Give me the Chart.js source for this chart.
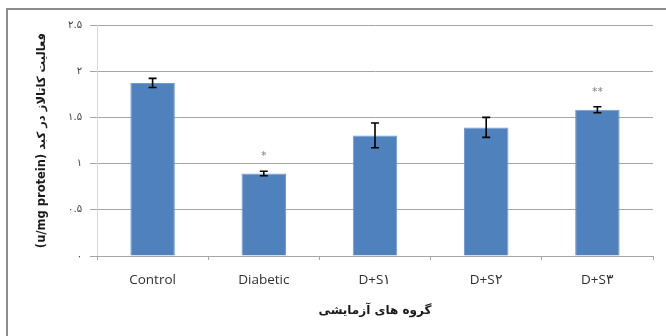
<!DOCTYPE html>
<html>
<head>
<meta charset="utf-8">
<script src="https://cdn.jsdelivr.net/npm/chart.js@4"></script>
<style>
  html, body { margin: 0; background: #fff; }
</style>
</head>
<body>
<canvas id="myChart" width="666" height="336"></canvas>
<script>
// Groups and catalase activity (mean and error)
const groups = ['Control', 'Diabetic', 'D+S۱', 'D+S۲', 'D+S۳'];
const activity = [1.873, 0.893, 1.305, 1.392, 1.583];
const errors = [0.049, 0.025, 0.134, 0.108, 0.033];
const marks = ['', '*', '', '', '**'];
const yTickLabels = ['۰', '۰.۵', '۱', '۱.۵', '۲', '۲.۵'];

// canvas text runs left-to-right, so the latin unit part comes first
const yTitle = '(u/mg protein) فعالیت کاتالاز در کبد';
const xTitle = 'گروه های آزمایشی';

// frame, error bars and significance marks
const extras = {
  id: 'extras',
  beforeDraw(chart) {
    const c = chart.ctx;
    c.save();
    c.strokeStyle = '#8c8c8c';
    c.lineWidth = 2;
    c.beginPath();
    c.moveTo(7, 336);
    c.lineTo(7, 9);
    c.lineTo(666, 9);
    c.stroke();
    c.restore();
  },
  afterDatasetsDraw(chart) {
    const c = chart.ctx;
    const y = chart.scales.y;
    const meta = chart.getDatasetMeta(0);
    c.save();
    meta.data.forEach((bar, i) => {
      const top = y.getPixelForValue(activity[i] + errors[i]);
      const bot = y.getPixelForValue(activity[i] - errors[i]);
      c.strokeStyle = '#000';
      c.lineWidth = 1.6;
      c.beginPath();
      c.moveTo(bar.x, top); c.lineTo(bar.x, bot);
      c.moveTo(bar.x - 4, top); c.lineTo(bar.x + 4, top);
      c.moveTo(bar.x - 4, bot); c.lineTo(bar.x + 4, bot);
      c.stroke();
      if (marks[i]) {
        c.fillStyle = '#7f7f7f';
        c.font = '11px "DejaVu Sans"';
        c.textAlign = 'center';
        c.textBaseline = 'middle';
        c.fillText(marks[i], bar.x, top - 15);
      }
    });
    c.restore();
  }
};

const data = {
  labels: groups,
  datasets: [{
    data: activity,
    backgroundColor: '#4f81bd',
    borderColor: '#6f9bd0',
    borderWidth: 1,
    barPercentage: 0.4,
    categoryPercentage: 1.0
  }]
};

const config = {
  type: 'bar',
  data: data,
  plugins: [extras],
  options: {
    responsive: false,
    animation: false,
    layout: { padding: { top: 25, right: 13, left: 0, bottom: 0 } },
    plugins: {
      legend: { display: false },
      tooltip: { enabled: false }
    },
    scales: {
      y: {
        min: 0,
        max: 2.5,
        afterFit: s => { s.width = 97; },
        ticks: {
          stepSize: 0.5,
          padding: 8,
          color: '#404040',
          font: { family: '"DejaVu Sans"', size: 10 },
          callback: v => yTickLabels[Math.round(v / 0.5)]
        },
        grid: { color: '#a6a6a6', tickLength: 7 },
        border: { color: '#d9d9d9' },
        title: {
          display: true,
          text: yTitle,
          color: '#1a1a1a',
          font: { family: '"DejaVu Sans"', size: 11.5, weight: 'bold' },
          padding: { top: 35, bottom: 0 }
        }
      },
      x: {
        afterFit: s => { s.height = 80; },
        ticks: {
          padding: 12,
          color: '#303030',
          font: { family: '"Open Sans"', size: 13.5 }
        },
        grid: { drawOnChartArea: false, color: '#a6a6a6', tickLength: 4 },
        border: { color: '#a6a6a6' },
        title: {
          display: true,
          text: xTitle,
          color: '#1a1a1a',
          font: { family: '"DejaVu Sans"', size: 12, weight: 'bold' },
          padding: { top: 4, bottom: 18 }
        }
      }
    }
  }
};

const myChart = new Chart(document.getElementById('myChart'), config);
</script>
</body>
</html>
